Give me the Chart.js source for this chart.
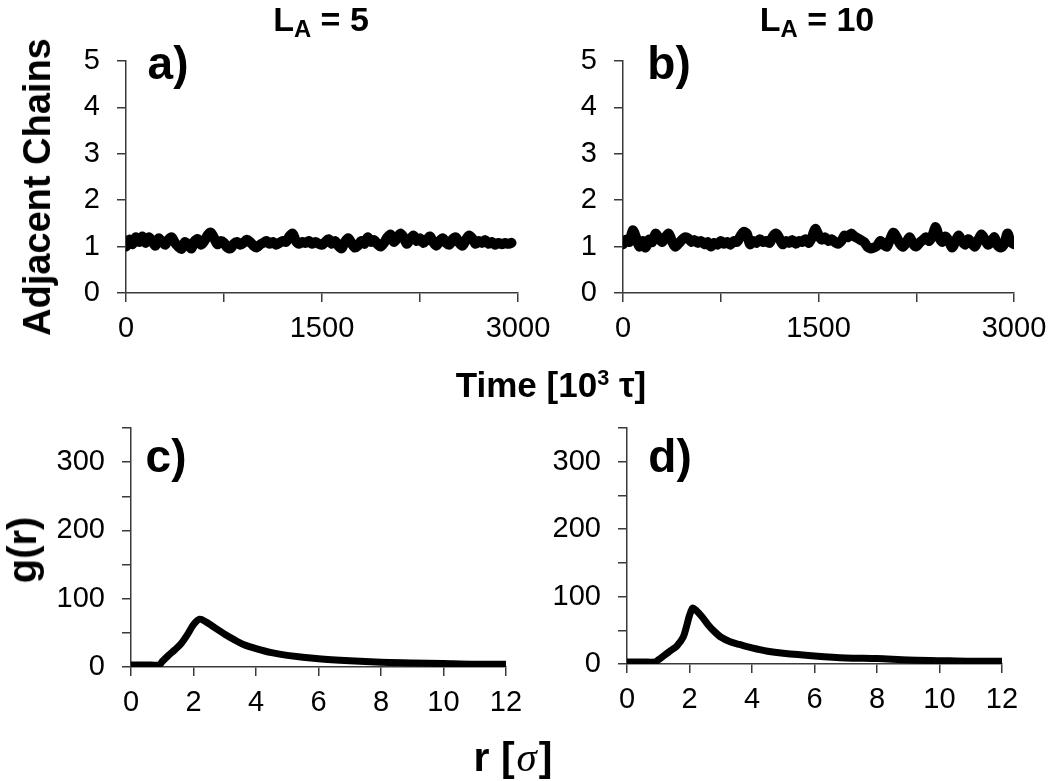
<!DOCTYPE html>
<html>
<head>
<meta charset="utf-8">
<script src="https://cdn.jsdelivr.net/npm/chart.js@4/dist/chart.umd.min.js"></script>
<style>
  html, body { margin: 0; padding: 0; background: #fff; }
  #page { position: relative; width: 1050px; height: 781px; overflow: hidden; font-family: "Liberation Sans", Arial, sans-serif; color: #000; }
  #page canvas { position: absolute; left: 0; top: 0; }
  .lbl { position: absolute; font-weight: bold; white-space: nowrap; transform: translate(-50%, -50%); line-height: 1; }
  .rot { transform: translate(-50%, -50%) rotate(-90deg); }
  .lbl sub { font-size: 70%; vertical-align: -0.25em; }
  .lbl sup { font-size: 62%; vertical-align: 0.55em; }
  .sig { font-family: "Liberation Serif", "Times New Roman", serif; font-style: italic; font-weight: normal; padding: 0 2px; }
</style>
</head>
<body>
<div id="page">
  <canvas id="chartA" width="1050" height="781"></canvas>
  <canvas id="chartB" width="1050" height="781"></canvas>
  <canvas id="chartC" width="1050" height="781"></canvas>
  <canvas id="chartD" width="1050" height="781"></canvas>

  <div class="lbl" style="left:321px; top:21px; font-size:34px;">L<sub>A</sub> = 5</div>
  <div class="lbl" style="left:817px; top:21px; font-size:34px;">L<sub>A</sub> = 10</div>
  <div class="lbl" style="left:168px; top:63px; font-size:46px;">a)</div>
  <div class="lbl" style="left:669px; top:63px; font-size:46px;">b)</div>
  <div class="lbl" style="left:166px; top:456px; font-size:46px;">c)</div>
  <div class="lbl" style="left:670px; top:456px; font-size:46px;">d)</div>
  <div class="lbl rot" style="left:37px; top:187px; font-size:38px;">Adjacent Chains</div>
  <div class="lbl" style="left:551px; top:384px; font-size:35px;">Time [10<sup>3</sup> τ]</div>
  <div class="lbl rot" style="left:22px; top:550px; font-size:40px;">g(r)</div>
  <div class="lbl" style="left:513px; top:757px; font-size:41px;">r [<span class="sig">σ</span>]</div>
</div>

<script>
// sampling interval of the time series, in 10^3 tau
const SAMPLE_STEP = 25;

// Adjacent chains vs time, L_A = 5 (t = 0 .. 2950)
const chainsA = [
  1.0, 1.15, 1.05, 1.2, 1.1, 1.22, 1.08, 1.2, 1.12, 1.02,
  1.18, 1.1, 1.04, 1.15, 1.2, 1.08, 1.0, 0.95, 1.1, 1.05,
  0.96, 1.12, 1.16, 1.04, 1.12, 1.25, 1.3, 1.18, 1.05, 1.12,
  1.08, 0.98, 0.96, 1.06, 1.1, 1.04, 1.08, 1.15, 1.1, 1.02,
  0.98, 1.04, 1.08, 1.12, 1.06, 1.1, 1.04, 1.08, 1.12, 1.1,
  1.22, 1.28, 1.12, 1.06, 1.1, 1.08, 1.12, 1.06, 1.1, 1.06,
  1.04, 1.1, 1.16, 1.06, 1.12, 1.02, 0.96, 1.1, 1.18, 1.08,
  0.98, 1.02, 1.12, 1.06, 1.2, 1.1, 1.14, 1.05, 1.0, 1.08,
  1.2, 1.26, 1.1, 1.18, 1.28, 1.2, 1.06, 1.16, 1.24, 1.12,
  1.18, 1.08, 1.14, 1.22, 1.1, 1.02, 1.12, 1.18, 1.08, 1.04,
  1.16, 1.2, 1.08, 1.02, 1.14, 1.24, 1.18, 1.06, 1.12, 1.08,
  1.14, 1.06, 1.1, 1.04, 1.08, 1.05, 1.08, 1.06, 1.08
];

// Adjacent chains vs time, L_A = 10 (t = 0 .. 3000)
const chainsB = [
  1.05, 1.15, 1.1, 1.35, 1.2, 1.0, 1.12, 0.98, 1.15, 1.1,
  1.28, 1.18, 1.1, 1.2, 1.28, 1.12, 1.0, 1.06, 1.14, 1.2,
  1.18, 1.1, 1.14, 1.08, 1.12, 1.05, 1.1, 1.0, 1.08, 1.04,
  1.12, 1.06, 1.1, 1.04, 1.12, 1.1, 1.22, 1.32, 1.28, 1.05,
  1.12, 1.08, 1.16, 1.1, 1.12, 1.08, 1.22, 1.28, 1.18, 1.05,
  1.12, 1.08, 1.14, 1.06, 1.12, 1.1, 1.16, 1.08, 1.2, 1.38,
  1.25, 1.15, 1.2, 1.12, 1.16, 1.1, 1.06, 1.12, 1.24, 1.2,
  1.28, 1.22, 1.18, 1.14, 1.1, 1.0, 0.96, 0.98, 1.02, 1.12,
  1.04, 1.0, 1.16, 1.3, 1.2, 1.06, 1.0, 1.1, 1.2, 1.06,
  1.0, 1.08, 1.14, 1.2, 1.12, 1.25, 1.42, 1.2, 1.1, 1.22,
  1.12, 0.98, 1.1, 1.24, 1.12, 1.04, 1.16, 1.08, 1.0, 1.14,
  1.26, 1.16, 1.04, 1.1, 1.2, 1.02, 0.98, 1.06, 1.28, 1.1,
  1.05
];

// g(r), L_A = 5
const rC = [0, 0.5, 0.9, 1.0, 1.2, 1.4, 1.6, 1.8, 2.0, 2.2, 2.4, 2.6, 2.8, 3.0, 3.3, 3.6, 4.0, 4.5, 5.0, 6.0, 7.0, 8.0, 9.0, 10.0, 11.0, 12.0];
const gC = [3, 3, 3, 8, 17, 25, 34, 47, 62, 70, 66, 60, 54, 48, 40, 33, 27, 21, 17, 12, 9, 7, 6, 5, 4, 4];

// g(r), L_A = 10
const rD = [0, 0.5, 0.9, 1.0, 1.2, 1.4, 1.6, 1.8, 1.9, 2.0, 2.1, 2.2, 2.4, 2.6, 2.8, 3.0, 3.3, 3.6, 4.0, 4.5, 5.0, 6.0, 7.0, 8.0, 9.0, 10.0, 11.0, 12.0];
const gD = [3, 3, 3, 6, 13, 20, 27, 40, 55, 72, 83, 80, 70, 58, 48, 40, 33, 29, 24, 19, 16, 12, 9, 8, 6, 5, 4, 4];

const AXIS_COLOR = "#3a3a3a";
const FONT = { family: "'Liberation Sans', Arial, sans-serif", size: 29 };
const Y_W = 110;
const X_H = 60;

const makeChart = (canvasId, points, area, xCfg, yCfg, lineWidth, tension) => {
  const canvas = document.getElementById(canvasId);
  const ctx = canvas.getContext("2d");

  const fixWidth = (scale) => {
    scale.width = Y_W;
    scale.paddingTop = 0;
    scale.paddingBottom = 0;
  };
  const fixHeight = (scale) => {
    scale.height = X_H;
    scale.paddingLeft = 0;
    scale.paddingRight = 0;
  };

  return new Chart(ctx, {
    type: "line",
    data: {
      datasets: [
        {
          data: points,
          borderColor: "#000",
          borderWidth: lineWidth,
          pointRadius: 0,
          tension: tension,
          borderCapStyle: "round",
          borderJoinStyle: "round",
          fill: false,
        },
      ],
    },
    options: {
      responsive: false,
      animation: false,
      parsing: false,
      layout: {
        padding: {
          left: area.left - Y_W,
          right: 1050 - area.right,
          top: area.top,
          bottom: 781 - area.bottom - X_H,
        },
      },
      plugins: {
        legend: { display: false },
        tooltip: { enabled: false },
      },
      scales: {
        x: {
          type: "linear",
          min: xCfg.min,
          max: xCfg.max,
          afterFit: fixHeight,
          grid: {
            drawOnChartArea: false,
            drawTicks: true,
            tickLength: 9,
            color: AXIS_COLOR,
            lineWidth: 1.5,
          },
          border: { display: true, color: AXIS_COLOR, width: 1.5 },
          ticks: {
            stepSize: xCfg.step,
            autoSkip: false,
            maxRotation: 0,
            padding: 10,
            color: "#000",
            font: FONT,
            callback: (value) => (value % xCfg.labelEvery === 0 ? String(value) : ""),
          },
        },
        y: {
          min: yCfg.min,
          max: yCfg.max,
          afterFit: fixWidth,
          grid: {
            drawOnChartArea: false,
            drawTicks: true,
            tickLength: 9,
            color: AXIS_COLOR,
            lineWidth: 1.5,
          },
          border: { display: true, color: AXIS_COLOR, width: 1.5 },
          ticks: {
            stepSize: yCfg.step,
            autoSkip: false,
            padding: 17,
            color: "#000",
            font: FONT,
            callback: (value) => (value % yCfg.labelEvery === 0 ? String(value) : ""),
          },
        },
      },
    },
  });
};

const timeSeries = (values) => values.map((v, i) => ({ x: i * SAMPLE_STEP, y: v }));
const pairs = (xs, ys) => xs.map((x, i) => ({ x: x, y: ys[i] }));

const timeX = { min: 0, max: 3000, step: 750, labelEvery: 1500 };
const chainsY = { min: 0, max: 5, step: 1, labelEvery: 1 };
const rX = { min: 0, max: 12, step: 2, labelEvery: 2 };
const gY = { min: 0, max: 350, step: 50, labelEvery: 100 };

makeChart("chartA", timeSeries(chainsA), { left: 126, right: 518, top: 61, bottom: 293 }, timeX, chainsY, 10, 0.3);
makeChart("chartB", timeSeries(chainsB), { left: 623, right: 1014, top: 61, bottom: 293 }, timeX, chainsY, 10, 0.3);
makeChart("chartC", pairs(rC, gC), { left: 131, right: 506, top: 428, bottom: 667 }, rX, gY, 7, 0.3);
makeChart("chartD", pairs(rD, gD), { left: 627, right: 1002, top: 428, bottom: 664 }, rX, gY, 7, 0.3);
</script>
</body>
</html>
